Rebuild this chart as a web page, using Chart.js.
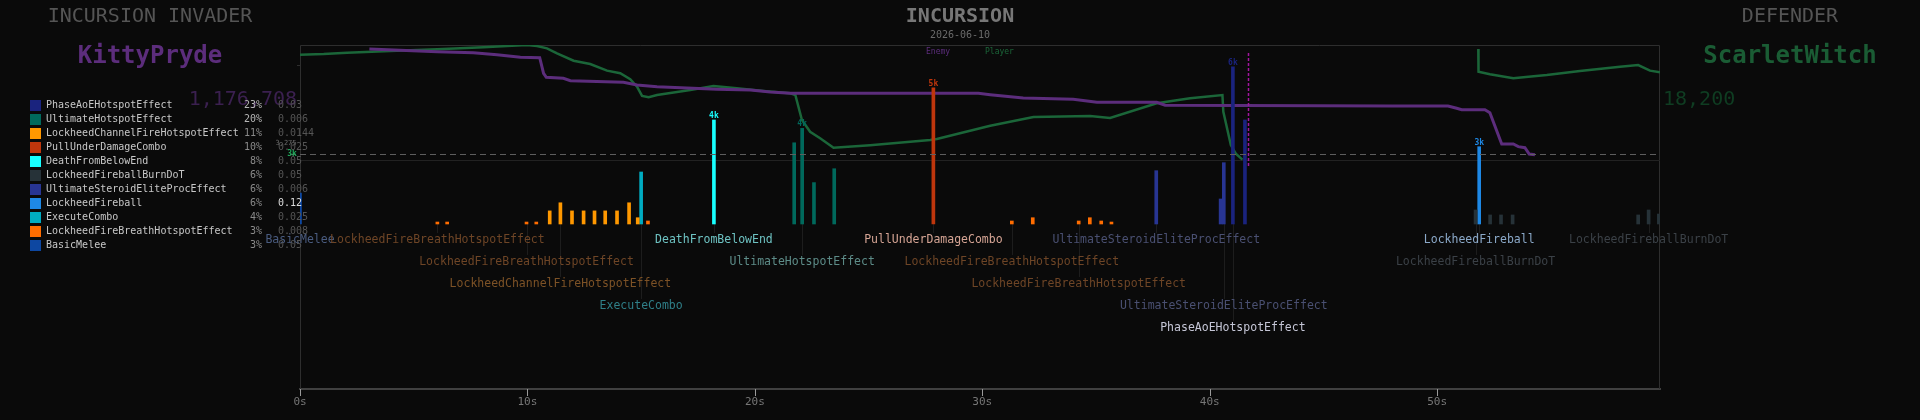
<!DOCTYPE html>
<html>
<head>
<meta charset="utf-8">
<script src="https://cdn.jsdelivr.net/npm/chart.js@4.4.1/dist/chart.umd.min.js"></script>
<style>
  html, body { margin: 0; padding: 0; background: #0a0a0a; }
  #wrap { width: 1920px; height: 420px; }
</style>
</head>
<body>
<div id="wrap"><canvas id="chart" width="1920" height="420"></canvas></div>
<script>
// ---- fight info
const fightName = 'INCURSION';
const fightDate = '2026-06-10';
const invaderName = 'KittyPryde';
const invaderTotal = '1,176,708';
const defenderName = 'ScarletWitch';
const defenderTotal = '18,200';

// ---- damage sources (legend order)
const categories = ['PhaseAoEHotspotEffect', 'UltimateHotspotEffect', 'LockheedChannelFireHotspotEffect',
  'PullUnderDamageCombo', 'DeathFromBelowEnd', 'LockheedFireballBurnDoT', 'UltimateSteroidEliteProcEffect',
  'LockheedFireball', 'ExecuteCombo', 'LockheedFireBreathHotspotEffect', 'BasicMelee'];
const sharePct = [23, 20, 11, 10, 8, 6, 6, 6, 4, 3, 3];
const shareRate = ['0.03', '0.006', '0.0144', '0.025', '0.05', '0.05', '0.006', '0.12', '0.025', '0.008', '0.05'];

// ---- hits: time (s), source index, damage, label row (0 = no label)
const hitTime   = [0.0, 6.04, 6.47, 9.96, 10.39, 10.98, 11.45, 11.96, 12.47, 12.95, 13.42, 13.94, 14.47, 14.85,
  15.0, 15.3, 18.2, 21.73, 22.08, 22.6, 23.49, 27.85, 31.3, 32.22, 34.24, 34.73, 35.23, 35.68, 37.65, 40.48,
  40.62, 41.02, 41.55, 51.69, 51.85, 52.33, 52.81, 53.32, 58.84, 59.3, 59.75];
const hitSource = [10, 9, 9, 9, 9, 2, 2, 2, 2, 2, 2, 2, 2, 2,
  8, 9, 4, 1, 1, 1, 1, 3, 9, 9, 9, 9, 9, 9, 6, 6,
  6, 0, 0, 5, 7, 5, 5, 5, 5, 5, 5];
const hitDamage = [1180, 75, 75, 75, 75, 500, 810, 500, 500, 500, 500, 500, 810, 240,
  1985, 115, 3970, 3100, 3650, 1580, 2110, 5200, 115, 240, 115, 240, 115, 75, 2035, 955,
  2340, 6000, 3970, 535, 2950, 345, 345, 345, 345, 535, 380];
const hitRow    = [1, 1, 0, 2, 0, 0, 3, 0, 0, 0, 0, 0, 0, 0,
  4, 0, 1, 0, 2, 0, 0, 1, 2, 0, 3, 0, 0, 0, 1, 0,
  4, 5, 0, 2, 1, 0, 0, 0, 0, 1, 0];

// ---- health over time (% of max)
const enemyTime = [3.05, 6.03, 7.62, 8.66, 9.69, 10.54, 10.71, 10.83, 11.58, 11.89, 14.22, 14.82, 15.7, 18.33,
  19.8, 20.68, 21.56, 29.83, 30.35, 31.8, 34.0, 35.04, 37.67, 38.04, 48.07, 50.48, 50.86, 51.08, 52.1,
  52.32, 52.84, 53.35, 53.57, 53.86, 54.05, 54.3];
const enemyHp = [96.5, 94.2, 93.3, 91.6, 89.3, 89.0, 75.4, 71.9, 71.0, 69.0, 67.6, 65.2, 63.7, 61.5,
  60.9, 59.1, 58.0, 58.0, 56.8, 53.9, 52.8, 50.2, 50.2, 47.6, 47.0, 47.0, 45.0, 43.7, 43.7,
  41.1, 13.9, 13.9, 11.6, 10.7, 5.2, 4.6];
const playerTime = [0.0, 1.04, 2.07, 3.97, 6.03, 8.07, 9.1, 9.98, 10.42, 10.86, 11.3, 12.03, 12.76, 13.5,
  14.08, 14.52, 14.82, 15.04, 15.33, 15.7, 17.16, 18.18, 19.21, 20.38, 21.56, 21.78, 22.07, 22.43, 22.87,
  23.46, 25.07, 27.71, 28.0, 30.35, 32.25, 34.74, 35.62, 37.67, 39.14, 40.56, 40.6, 40.93, 41.16, 41.44,
  46.0, 51.81, 51.82, 52.32, 53.35, 53.79, 54.82, 56.28, 58.04, 58.84, 59.36, 59.8];
const playerHp = [91.6, 92.2, 93.3, 94.8, 96.3, 98.0, 99.1, 100, 99.1, 97.1, 92.8, 86.3, 83.5, 77.7,
  75.4, 70.2, 63.7, 55.7, 54.5, 56.5, 60.9, 64.3, 62.3, 60.0, 58.0, 56.5, 34.8, 24.6, 18.9,
  10.7, 12.8, 17.4, 18.3, 29.8, 37.4, 38.3, 36.5, 49.3, 53.6, 56.5, 42.0, 13.0, 5.2, 0.3,
  null, 96.5, 76.8, 74.5, 71.0, 71.9, 73.9, 77.4, 81.1, 82.6, 77.7, 76.3];

const thresholdDamage = 2670;
const thresholdNote = '3,275';
const markerTime = 41.7;
const xTicks = [0, 10, 20, 30, 40, 50];
const xMax = 59.8;

// ---- styles
const sourceColors = ['#1a237e', '#00695c', '#ff9800', '#bf360c', '#18ffff', '#263238', '#283593',
  '#1e88e5', '#00acc1', '#ff6d00', '#0d47a1'];
const labelColors = ['#c5c6d6', '#5d8c88', '#7d5226', '#d6a595', '#6ec3c3', '#3b4147', '#4a5072',
  '#8ba9c9', '#2f7f88', '#6e4526', '#4a5c80'];
const enemyColor = '#5c2d7c';
const playerColor = '#1b6639';
const MONO = '"DejaVu Sans Mono", monospace';

function hitsOf(src) {
  const out = [];
  hitTime.forEach((t, i) => { if (hitSource[i] === src) out.push({ x: t, y: hitDamage[i] }); });
  return out;
}

const barSets = categories.map((name, c) => ({
  type: 'bar',
  label: name,
  data: hitsOf(c),
  backgroundColor: sourceColors[c],
  barThickness: 3,
  grouped: false,
  xAxisID: 'x',
  yAxisID: 'yb'
}));

const lineSets = [
  { type: 'line', label: 'Enemy', data: enemyTime.map((t, i) => ({ x: t, y: enemyHp[i] })),
    borderColor: enemyColor, borderWidth: 3, pointRadius: 0, yAxisID: 'yh' },
  { type: 'line', label: 'Player', data: playerTime.map((t, i) => ({ x: t, y: playerHp[i] })),
    borderColor: playerColor, borderWidth: 2.5, pointRadius: 0, spanGaps: false, yAxisID: 'yh' }
];

function txt(ctx, s, x, y, font, color, align) {
  ctx.font = font;
  ctx.fillStyle = color;
  ctx.textAlign = align || 'left';
  ctx.textBaseline = 'middle';
  ctx.fillText(s, x, y);
}

const overlay = {
  id: 'overlay',
  beforeDraw(chart) {
    const ctx = chart.ctx;
    ctx.save();
    ctx.fillStyle = '#0a0a0a';
    ctx.fillRect(0, 0, chart.width, chart.height);
    ctx.restore();
  },
  beforeDatasetsDraw(chart) {
    const { ctx, chartArea: a, scales } = chart;
    const base = scales.yb.getPixelForValue(0);
    ctx.save();
    ctx.lineWidth = 1;
    // frame
    ctx.strokeStyle = '#2e2e2e';
    ctx.beginPath();
    ctx.moveTo(a.left + 0.5, a.bottom); ctx.lineTo(a.left + 0.5, a.top + 0.5);
    ctx.lineTo(a.right - 0.5, a.top + 0.5); ctx.lineTo(a.right - 0.5, a.bottom);
    ctx.stroke();
    // small tick on the left edge
    ctx.beginPath(); ctx.moveTo(a.left - 3, a.top + 20.5); ctx.lineTo(a.left, a.top + 20.5); ctx.stroke();
    // zero health line
    const y0 = Math.round(scales.yh.getPixelForValue(0)) + 0.5;
    ctx.strokeStyle = '#222';
    ctx.beginPath(); ctx.moveTo(a.left, y0); ctx.lineTo(a.right, y0); ctx.stroke();
    // leader lines
    ctx.strokeStyle = '#1d1d1d';
    hitTime.forEach((t, i) => {
      if (!hitRow[i]) return;
      const x = Math.round(scales.x.getPixelForValue(t)) + 0.5;
      const ry = base + 16 + (hitRow[i] - 1) * 22;
      ctx.beginPath(); ctx.moveTo(x, base); ctx.lineTo(x, ry - 7); ctx.stroke();
    });
    ctx.restore();
  },
  afterDatasetsDraw(chart) {
    const { ctx, chartArea: a, scales } = chart;
    const base = scales.yb.getPixelForValue(0);
    ctx.save();
    // threshold
    const ty = Math.round(scales.yb.getPixelForValue(thresholdDamage)) + 0.5;
    ctx.strokeStyle = '#5e5e5e';
    ctx.setLineDash([6, 4]);
    ctx.beginPath(); ctx.moveTo(a.left - 10, ty); ctx.lineTo(a.right, ty); ctx.stroke();
    ctx.setLineDash([]);
    txt(ctx, Math.round(thresholdDamage / 1000) + 'k', a.left - 8, ty - 1, 'bold 8px ' + MONO, '#1fa85a', 'center');
    txt(ctx, thresholdNote, a.left - 14, ty - 11, '7px ' + MONO, '#6a6a6a', 'center');
    // event marker
    const mx = Math.round(scales.x.getPixelForValue(markerTime)) + 0.5;
    ctx.strokeStyle = '#a4149f';
    ctx.lineWidth = 1.5;
    ctx.setLineDash([3, 2]);
    ctx.beginPath(); ctx.moveTo(mx, a.top + 8); ctx.lineTo(mx, scales.yh.getPixelForValue(0) + 7); ctx.stroke();
    ctx.setLineDash([]);
    // peak value labels
    categories.forEach((name, c) => {
      let best = -1;
      hitTime.forEach((t, i) => { if (hitSource[i] === c && (best < 0 || hitDamage[i] > hitDamage[best])) best = i; });
      if (best < 0 || hitDamage[best] < 2500) return;
      const x = scales.x.getPixelForValue(hitTime[best]);
      const y = scales.yb.getPixelForValue(hitDamage[best]);
      txt(ctx, Math.round(hitDamage[best] / 1000) + 'k', x, y - 4, 'bold 8px ' + MONO, sourceColors[c], 'center');
    });
    // hit labels
    hitTime.forEach((t, i) => {
      if (!hitRow[i]) return;
      const x = scales.x.getPixelForValue(t);
      const ry = base + 16 + (hitRow[i] - 1) * 22;
      txt(ctx, categories[hitSource[i]], x, ry, '11.5px ' + MONO, labelColors[hitSource[i]], 'center');
    });
    // series legend
    txt(ctx, 'Enemy', 926, a.top + 7, '8px ' + MONO, enemyColor, 'left');
    txt(ctx, 'Player', 985, a.top + 7, '8px ' + MONO, playerColor, 'left');
    ctx.restore();
  },
  afterDraw(chart) {
    const { ctx, chartArea: a, scales } = chart;
    ctx.save();
    // x tick marks
    ctx.fillStyle = '#9a9a9a';
    scales.x.ticks.forEach(t => {
      const x = Math.round(scales.x.getPixelForValue(t.value));
      ctx.fillRect(x, a.bottom, 1, 7);
    });
    // headers
    txt(ctx, 'INCURSION INVADER', 150, 17, '20px ' + MONO, '#555', 'center');
    txt(ctx, invaderName, 150, 57, 'bold 24px ' + MONO, enemyColor, 'center');
    txt(ctx, invaderTotal, a.left - 3, 100, '20px ' + MONO, '#3b2050', 'right');
    txt(ctx, fightName, 960, 17, 'bold 20px ' + MONO, '#777', 'center');
    txt(ctx, fightDate, 960, 35, '10px ' + MONO, '#6a6a6a', 'center');
    txt(ctx, 'DEFENDER', 1790, 17, '20px ' + MONO, '#555', 'center');
    txt(ctx, defenderName, 1790, 57, 'bold 24px ' + MONO, '#1a5c34', 'center');
    txt(ctx, defenderTotal, a.right + 3, 100, '20px ' + MONO, '#0f3d22', 'left');
    // damage share table
    categories.forEach((name, c) => {
      const y = 105 + c * 14.03;
      ctx.fillStyle = sourceColors[c];
      ctx.fillRect(30, Math.round(y - 5.5), 11, 11);
      txt(ctx, name, 46, y, '10px ' + MONO, '#c8c8c8', 'left');
      txt(ctx, sharePct[c] + '%', 262, y, '10px ' + MONO, sharePct[c] >= 20 ? '#b5b5b5' : '#8a8a8a', 'right');
      txt(ctx, shareRate[c], 278, y, '10px ' + MONO, parseFloat(shareRate[c]) >= 0.1 ? '#dcdcdc' : '#555', 'left');
    });
    ctx.restore();
  }
};

new Chart(document.getElementById('chart'), {
  type: 'bar',
  data: { datasets: barSets.concat(lineSets) },
  options: {
    responsive: false,
    animation: false,
    layout: { padding: { left: 300, right: 260, top: 45, bottom: 0 } },
    plugins: { legend: { display: false }, tooltip: { enabled: false } },
    scales: {
      x: {
        type: 'linear',
        min: 0,
        max: xMax,
        offset: false,
        afterFit: s => { s.height = 31; },
        afterBuildTicks: s => { s.ticks = xTicks.map(v => ({ value: v })); },
        border: { color: '#404040', width: 2 },
        grid: { display: false, drawTicks: false },
        ticks: { padding: 7, color: '#777', font: { family: MONO, size: 11 }, callback: v => v + 's' }
      },
      yb: { display: false, min: -6298, max: 6832 },
      yh: { display: false, min: -199.1, max: 100 }
    }
  },
  plugins: [overlay]
});
</script>
</body>
</html>
